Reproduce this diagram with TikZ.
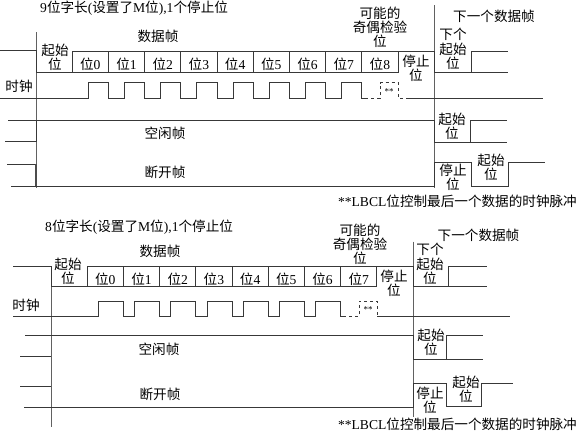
\documentclass[tikz,border=0pt]{standalone}
\usepackage{fontspec}
\setmainfont{Liberation Serif}
\newfontfamily\cjk{Noto Sans CJK SC}
\newcommand\C[1]{{\cjk #1}}
\tikzset{
  sig/.style={draw=black!78, line width=0.8pt},
  vbar/.style={draw=black!62, line width=0.9pt},
  lbl/.style={inner sep=0pt, align=center, font=\fontsize{13.6}{14.2}\selectfont},
  tiny/.style={inner sep=0pt, font=\fontsize{9}{9}\selectfont},
}
\begin{document}
\begin{tikzpicture}[x=1pt,y=-1pt]
\useasboundingbox (0,0) rectangle (581,434);
\fill[white] (0,0) rectangle (581,434);

%%%%%%%%%%%%%%%% TOP: 9-bit %%%%%%%%%%%%%%%%
\node[lbl,anchor=west] (t1title) at (40,8.5) {9\C{位字长}(\C{设置了}M\C{位}),1\C{个停止位}};
\node[lbl] (t1frame) at (158,36) {\C{数据帧}};
\node[lbl] (t1par) at (380,27) {\C{可能的}\\\C{奇偶检验}\\\C{位}};
\node[lbl] (t1next) at (494,16) {\C{下一个数据帧}};
\node[lbl] (t1nstart) at (453,49) {\C{下个}\\\C{起始}\\\C{位}};
\node[lbl] (t1start) at (55,57.5) {\C{起始}\\\C{位}};
\node[lbl] (t1stop) at (416,68) {\C{停止}\\\C{位}};
\node[lbl] (t1clk) at (19,86) {\C{时钟}};

% main verticals
\draw[vbar] (36,32) -- (36,188);
\draw[vbar] (434,5) -- (434,188);

% data line
\draw[sig] (0,50.7) -- (36,50.7) -- (36,72.7) -- (398,72.7);
\draw[sig] (72.2,72.7) -- (72.2,51.7) -- (434,51.7) -- (434,72.7) -- (508,72.7);
\draw[sig] (471,72.7) -- (471,51.7) -- (508,51.7);
\foreach \k in {0,...,8}{
  \draw[sig] ({108.4+36.2*\k},51.7) -- ({108.4+36.2*\k},72.7);
  \node[lbl] (t1b\k) at ({90.3+36.2*\k},64) {\C{位}\k};
}

% clock
\draw[sig] (0,98) \foreach \k in {0,...,7}{
   -- ({88.2+36.2*\k},98) -- ({88.2+36.2*\k},82.5) -- ({108.4+36.2*\k},82.5) -- ({108.4+36.2*\k},98) } -- (365,98);
\draw[sig,dashed,dash pattern=on 3pt off 3pt] (365,98) -- (380,98) -- (380,82.5) -- (398,82.5) -- (398,98) -- (406,98);
\draw[sig] (406,98) -- (543,98);
\node[tiny] (t1ast) at (389,92) {**};

% idle
\node[lbl] (t1idle) at (165,133) {\C{空闲帧}};
\draw[sig] (8,120) -- (434,120) -- (434,142.7) -- (507,142.7);
\draw[sig] (470,142.7) -- (470,120) -- (507,120);
\draw[sig] (5,141.7) -- (36,141.7) -- (36,120);
\node[lbl] (t1is) at (452,126.5) {\C{起始}\\\C{位}};

% break
\node[lbl] (t1brk) at (165,172) {\C{断开帧}};
\draw[sig] (7,164) -- (36,164);
\draw[draw=black!70, line width=2pt] (36,164) -- (36,186.5);
\draw[sig] (11,186.5) -- (434,186.5) -- (434,162.3) -- (471.7,162.3) -- (471.7,186) -- (508,186) -- (508,162.3) -- (545,162.3);
\node[lbl] (t1bs) at (453,177.5) {\C{停止}\\\C{位}};
\node[lbl] (t1bs2) at (491,167.5) {\C{起始}\\\C{位}};
\node[lbl,anchor=east] (t1note) at (577,201) {**LBCL\C{位控制最后一个数据的时钟脉冲}};

%%%%%%%%%%%%%%%% BOTTOM: 8-bit %%%%%%%%%%%%%%%%
\node[lbl,anchor=west] (t2title) at (45,227.5) {8\C{位字长}(\C{设置了}M\C{位}),1\C{个停止位}};
\node[lbl] (t2frame) at (160,251) {\C{数据帧}};
\node[lbl] (t2par) at (360,244) {\C{可能的}\\\C{奇偶检验}\\\C{位}};
\node[lbl] (t2next) at (478.5,235) {\C{下一个数据帧}};
\node[lbl] (t2nstart) at (430,264) {\C{下个}\\\C{起始}\\\C{位}};
\node[lbl] (t2start) at (68,271.5) {\C{起始}\\\C{位}};
\node[lbl] (t2stop) at (394,283.5) {\C{停止}\\\C{位}};
\node[lbl] (t2clk) at (26,305) {\C{时钟}};

% main verticals
\draw[vbar] (51,266.7) -- (51,426.7);
\draw[vbar] (413,241.7) -- (413,417);

% data line
\draw[sig] (13,266.7) -- (51,266.7) -- (51,286.7) -- (376.8,286.7);
\draw[sig] (87.2,286.7) -- (87.2,266.7) -- (413,266.7) -- (413,286.7) -- (486.7,286.7);
\draw[sig] (448.3,286.7) -- (448.3,266.7) -- (486.7,266.7);
\foreach \k in {0,...,7}{
  \draw[sig] ({123.4+36.2*\k},266.7) -- ({123.4+36.2*\k},286.7);
  \node[lbl] (t2b\k) at ({105.3+36.2*\k},279) {\C{位}\k};
}

% clock
\draw[sig] (13,316) \foreach \k in {0,...,6}{
   -- ({98.4+36.2*\k},316) -- ({98.4+36.2*\k},301) -- ({123.4+36.2*\k},301) -- ({123.4+36.2*\k},316) } -- (343,316);
\draw[sig,dashed,dash pattern=on 3pt off 3pt] (343,316) -- (359,316) -- (359,301) -- (377,301) -- (377,316);
\draw[sig] (377,316) -- (510,316);
\node[tiny] (t2ast) at (368,310) {**};

% idle
\node[lbl] (t2idle) at (159,349) {\C{空闲帧}};
\draw[sig] (25,335) -- (413,335) -- (413,359) -- (482.7,359);
\draw[sig] (446.7,359) -- (446.7,335.5) -- (482.7,335.5);
\draw[sig] (20,356.7) -- (51,356.7);
\node[lbl] (t2is) at (431,342.5) {\C{起始}\\\C{位}};

% break
\node[lbl] (t2brk) at (160,394) {\C{断开帧}};
\draw[sig] (20,386.7) -- (51,386.7);
\draw[sig] (24,407.3) -- (413,407.3) -- (413,383.3) -- (446.7,383.3) -- (446.7,406) -- (481.7,406) -- (481.7,383.3) -- (513.3,383.3);
\node[lbl] (t2bs) at (430,400.5) {\C{停止}\\\C{位}};
\node[lbl] (t2bs2) at (466,389.5) {\C{起始}\\\C{位}};
\node[lbl,anchor=east] (t2note) at (577,424) {**LBCL\C{位控制最后一个数据的时钟脉冲}};
\end{tikzpicture}
\end{document}
